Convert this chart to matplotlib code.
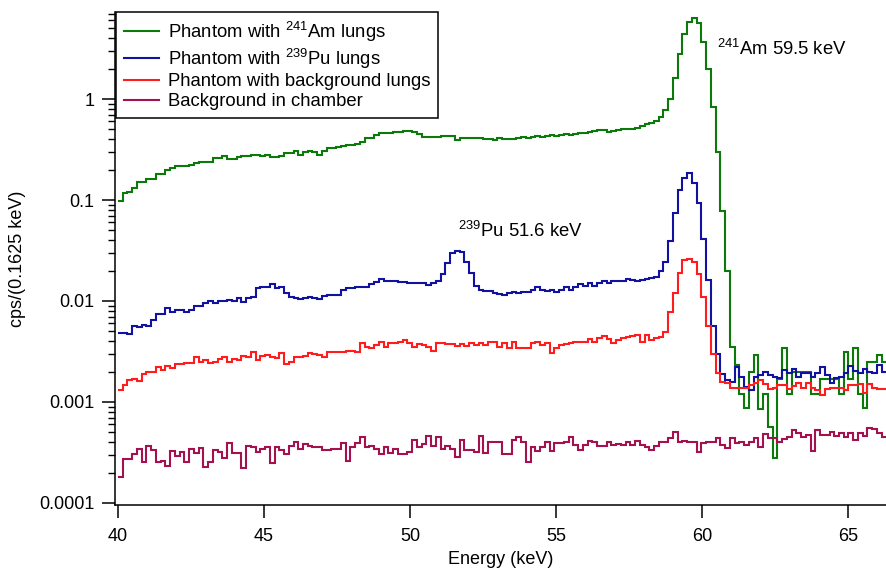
import matplotlib
matplotlib.use('Agg')
import matplotlib.pyplot as plt
import numpy as np
from matplotlib.ticker import FixedLocator, LogLocator, NullFormatter, FuncFormatter

plt.rcParams['font.family'] = ['Liberation Sans', 'DejaVu Sans']
plt.rcParams['mathtext.default'] = 'regular'
plt.rcParams['font.size'] = 13

# spektra: biny co 0.1625 keV od 40 keV
e_start = 40.0
bin_width = 0.1625

am_lungs = [
    0.098, 0.116, 0.121, 0.131, 0.152, 0.152, 0.160, 0.161, 0.180, 0.180,
    0.198, 0.206, 0.217, 0.217, 0.217, 0.222, 0.231, 0.240, 0.240, 0.238,
    0.263, 0.263, 0.273, 0.255, 0.255, 0.265, 0.270, 0.273, 0.277, 0.277,
    0.270, 0.278, 0.268, 0.268, 0.273, 0.290, 0.290, 0.306, 0.280, 0.300,
    0.306, 0.300, 0.280, 0.306, 0.325, 0.325, 0.335, 0.343, 0.350, 0.351,
    0.360, 0.379, 0.410, 0.410, 0.440, 0.457, 0.457, 0.457, 0.466, 0.475,
    0.486, 0.486, 0.475, 0.447, 0.423, 0.423, 0.423, 0.423, 0.430, 0.430,
    0.430, 0.393, 0.414, 0.414, 0.414, 0.414, 0.409, 0.400, 0.400, 0.393,
    0.414, 0.400, 0.400, 0.400, 0.410, 0.420, 0.410, 0.420, 0.430, 0.420,
    0.430, 0.440, 0.430, 0.440, 0.450, 0.440, 0.450, 0.460, 0.460, 0.470,
    0.480, 0.490, 0.490, 0.470, 0.480, 0.490, 0.500, 0.500, 0.510, 0.520,
    0.540, 0.560, 0.580, 0.610, 0.660, 0.780, 1.00, 1.60, 2.80, 4.40,
    5.80, 6.30, 5.65, 3.70, 2.00, 0.83, 0.30, 0.078, 0.020, 0.0035,
    0.0023, 0.0012, 0.00087, 0.0020, 0.0029, 0.00085, 0.0012, 0.00056, 0.00028, 0.0017,
    0.0034, 0.0012, 0.0020, 0.0020, 0.0020, 0.0020, 0.0012, 0.0012, 0.0017, 0.0017,
    0.0017, 0.0017, 0.0012, 0.0031, 0.0017, 0.0034, 0.0012, 0.00087, 0.0025, 0.0025,
    0.0029, 0.0025,
]

pu_lungs = [
    0.0048, 0.0048, 0.0047, 0.0057, 0.0055, 0.0058, 0.0056, 0.0065, 0.0074, 0.0074,
    0.0085, 0.0078, 0.0081, 0.0082, 0.0077, 0.0081, 0.0089, 0.0089, 0.0096, 0.0100,
    0.0096, 0.0100, 0.0100, 0.0102, 0.0100, 0.0106, 0.0097, 0.0106, 0.0110, 0.0133,
    0.0139, 0.0139, 0.0147, 0.0133, 0.0137, 0.0119, 0.0110, 0.0106, 0.0104, 0.0106,
    0.0110, 0.0106, 0.0104, 0.0112, 0.0115, 0.0115, 0.0115, 0.0129, 0.0133, 0.0133,
    0.0139, 0.0139, 0.0139, 0.0147, 0.0155, 0.0164, 0.0158, 0.0158, 0.0158, 0.0155,
    0.0155, 0.0150, 0.0150, 0.0152, 0.0150, 0.0144, 0.0150, 0.0156, 0.0184, 0.0236,
    0.0297, 0.0315, 0.0308, 0.0245, 0.0188, 0.0141, 0.0128, 0.0127, 0.0127, 0.0119,
    0.0117, 0.0115, 0.0119, 0.0124, 0.0121, 0.0124, 0.0124, 0.0128, 0.0137, 0.0128,
    0.0127, 0.0128, 0.0124, 0.0128, 0.0137, 0.0128, 0.0137, 0.0147, 0.0141, 0.0150,
    0.0141, 0.0150, 0.0156, 0.0150, 0.0156, 0.0156, 0.0156, 0.0165, 0.0161, 0.0156,
    0.0161, 0.0165, 0.0168, 0.0174, 0.0200, 0.0245, 0.0396, 0.075, 0.125, 0.164,
    0.184, 0.149, 0.094, 0.041, 0.0162, 0.0056, 0.0030, 0.0019, 0.00165, 0.00159,
    0.00224, 0.00178, 0.00142, 0.00132, 0.00178, 0.00185, 0.0020, 0.00185, 0.00178, 0.00172,
    0.00207, 0.00195, 0.0021, 0.00178, 0.00192, 0.00195, 0.00178, 0.00192, 0.00224, 0.00185,
    0.00153, 0.00172, 0.00178, 0.00192, 0.00227, 0.00204, 0.00192, 0.0021, 0.0020, 0.00192,
    0.00232, 0.0020,
]

bkg_lungs = [
    1.31e-3, 1.47e-3, 1.65e-3, 1.68e-3, 1.62e-3, 1.89e-3, 2.00e-3, 2.00e-3, 2.24e-3, 2.07e-3,
    2.27e-3, 2.15e-3, 2.38e-3, 2.38e-3, 2.42e-3, 2.45e-3, 2.77e-3, 2.51e-3, 2.61e-3, 2.45e-3,
    2.51e-3, 2.64e-3, 2.77e-3, 2.51e-3, 2.64e-3, 2.61e-3, 2.85e-3, 2.77e-3, 3.15e-3, 2.61e-3,
    2.85e-3, 2.92e-3, 2.77e-3, 2.70e-3, 3.03e-3, 2.36e-3, 2.51e-3, 2.77e-3, 2.81e-3, 2.85e-3,
    3.03e-3, 2.99e-3, 2.92e-3, 2.77e-3, 3.15e-3, 3.15e-3, 3.10e-3, 3.15e-3, 3.20e-3, 3.20e-3,
    3.15e-3, 3.81e-3, 3.53e-3, 3.40e-3, 3.66e-3, 3.96e-3, 3.48e-3, 3.87e-3, 3.81e-3, 3.96e-3,
    4.11e-3, 3.81e-3, 3.53e-3, 3.72e-3, 3.66e-3, 3.53e-3, 3.22e-3, 3.81e-3, 3.81e-3, 3.74e-3,
    3.74e-3, 3.62e-3, 3.72e-3, 3.60e-3, 3.87e-3, 3.66e-3, 3.87e-3, 3.66e-3, 3.96e-3, 3.96e-3,
    3.53e-3, 3.81e-3, 3.40e-3, 3.96e-3, 3.40e-3, 3.40e-3, 3.40e-3, 3.81e-3, 3.90e-3, 3.66e-3,
    3.81e-3, 3.08e-3, 3.40e-3, 3.66e-3, 3.74e-3, 3.81e-3, 3.90e-3, 3.90e-3, 3.96e-3, 4.21e-3,
    3.90e-3, 4.27e-3, 4.50e-3, 4.18e-3, 3.81e-3, 4.11e-3, 4.27e-3, 4.43e-3, 4.50e-3, 4.60e-3,
    3.96e-3, 4.60e-3, 4.11e-3, 4.27e-3, 4.43e-3, 4.97e-3, 7.8e-3, 0.0119, 0.0188, 0.0255,
    0.0260, 0.0245, 0.0185, 0.0110, 0.00565, 0.0030, 0.00195, 0.00159, 0.00153, 0.00137,
    1.37e-3, 1.39e-3, 1.37e-3, 1.48e-3, 1.53e-3, 1.65e-3, 1.51e-3, 1.34e-3, 1.39e-3, 1.48e-3,
    1.48e-3, 1.34e-3, 1.45e-3, 1.53e-3, 1.37e-3, 1.53e-3, 1.37e-3, 1.32e-3, 1.17e-3, 1.34e-3,
    1.39e-3, 1.39e-3, 1.37e-3, 1.32e-3, 1.48e-3, 1.48e-3, 1.51e-3, 1.22e-3, 1.51e-3, 1.37e-3,
    1.34e-3, 1.34e-3,
]

chamber = [
    1.82e-4, 2.70e-4, 2.70e-4, 3.05e-4, 3.40e-4, 2.57e-4, 3.64e-4, 3.35e-4, 2.57e-4, 2.62e-4,
    2.34e-4, 3.30e-4, 2.92e-4, 3.22e-4, 2.57e-4, 3.43e-4, 3.15e-4, 3.49e-4, 2.29e-4, 2.57e-4,
    3.35e-4, 3.22e-4, 2.77e-4, 3.96e-4, 3.10e-4, 3.10e-4, 2.20e-4, 3.70e-4, 3.61e-4, 3.22e-4,
    3.40e-4, 3.61e-4, 2.51e-4, 3.61e-4, 3.35e-4, 3.05e-4, 3.68e-4, 4.05e-4, 3.40e-4, 3.84e-4,
    3.64e-4, 3.61e-4, 3.61e-4, 3.35e-4, 3.35e-4, 3.40e-4, 3.40e-4, 3.96e-4, 2.61e-4, 3.61e-4,
    3.96e-4, 4.47e-4, 3.61e-4, 3.68e-4, 3.40e-4, 3.05e-4, 3.61e-4, 3.10e-4, 3.40e-4, 3.05e-4,
    3.05e-4, 3.22e-4, 4.21e-4, 3.61e-4, 3.84e-4, 4.61e-4, 3.70e-4, 4.47e-4, 3.40e-4, 3.64e-4,
    3.40e-4, 2.87e-4, 4.21e-4, 3.35e-4, 3.35e-4, 3.22e-4, 4.61e-4, 3.15e-4, 4.05e-4, 4.05e-4,
    4.05e-4, 3.05e-4, 3.05e-4, 4.21e-4, 4.54e-4, 4.05e-4, 2.57e-4, 3.61e-4, 3.30e-4, 3.61e-4,
    4.05e-4, 3.30e-4, 3.90e-4, 3.90e-4, 4.05e-4, 4.47e-4, 3.75e-4, 3.35e-4, 3.75e-4, 4.11e-4,
    4.05e-4, 3.67e-4, 3.67e-4, 4.05e-4, 3.75e-4, 3.84e-4, 3.75e-4, 4.05e-4, 3.75e-4, 4.14e-4,
    3.75e-4, 3.61e-4, 3.35e-4, 3.70e-4, 4.05e-4, 4.05e-4, 4.37e-4, 5.08e-4, 4.05e-4, 4.11e-4,
    4.05e-4, 4.05e-4, 3.22e-4, 3.90e-4, 4.05e-4, 4.05e-4, 4.37e-4, 3.75e-4, 3.48e-4, 4.37e-4,
    3.90e-4, 4.05e-4, 3.75e-4, 4.05e-4, 4.37e-4, 3.61e-4, 4.79e-4, 4.37e-4, 4.37e-4, 4.05e-4,
    4.27e-4, 4.54e-4, 5.28e-4, 4.90e-4, 4.54e-4, 4.71e-4, 3.30e-4, 5.28e-4, 4.71e-4, 4.71e-4,
    5.08e-4, 4.61e-4, 4.90e-4, 4.54e-4, 4.90e-4, 4.21e-4, 4.90e-4, 4.61e-4, 5.57e-4, 5.36e-4,
    4.90e-4, 4.54e-4,
]

labels = ['Phantom with $^{241}$Am lungs',
          'Phantom with $^{239}$Pu lungs',
          'Phantom with background lungs',
          'Background in chamber']
colors = ['#0b7a0b', '#1212a0', '#ff1c1c', '#a3124e']

fig = plt.figure(figsize=(8.86, 5.72), dpi=100)
ax = fig.add_axes([115 / 886, 67 / 572, 771 / 886, 493 / 572])

for widmo, lab, col in zip([am_lungs, pu_lungs, bkg_lungs, chamber], labels, colors):
    edges = e_start + bin_width * np.arange(len(widmo) + 1)
    ax.stairs(widmo, edges, baseline=None, color=col, lw=1.5, label=lab)

ax.set_yscale('log')
ax.set_xlim(39.897, 66.31)
ax.set_ylim(9.55e-5, 7.27)

ax.xaxis.set_major_locator(FixedLocator([40, 45, 50, 55, 60, 65]))
ax.yaxis.set_major_locator(FixedLocator([1e-4, 1e-3, 1e-2, 1e-1, 1]))
ax.yaxis.set_major_formatter(FuncFormatter(lambda v, p: '%g' % v))
ax.yaxis.set_minor_locator(LogLocator(base=10, subs=np.arange(2, 10), numticks=20))
ax.yaxis.set_minor_formatter(NullFormatter())

ax.tick_params(which='major', direction='out', length=9.4, width=1.1, labelsize=13)
ax.tick_params(axis='x', which='major', pad=7.5)
ax.tick_params(axis='y', which='major', pad=5.5)
ax.tick_params(which='minor', direction='out', length=5, width=1.0)

ax.spines['top'].set_visible(False)
ax.spines['right'].set_visible(False)
ax.spines['left'].set_linewidth(1.1)
ax.spines['bottom'].set_linewidth(1.1)

ax.set_xlabel('Energy (keV)', fontsize=13, labelpad=4)
ax.set_ylabel('cps/(0.1625 keV)', fontsize=13, labelpad=9)

# opisy pikow
ax.text(60.52, 2.73, '$^{241}$Am 59.5 keV', fontsize=13.3, ha='left', va='baseline')
ax.text(51.65, 0.043, '$^{239}$Pu 51.6 keV', fontsize=13.3, ha='left', va='baseline')

leg = ax.legend(loc='upper left', bbox_to_anchor=(116 / 886, 1 - 12 / 572),
                bbox_transform=fig.transFigure, borderaxespad=0, fontsize=13.3,
                labelspacing=0.15, handlelength=1.9, handletextpad=0.5,
                borderpad=0.42, fancybox=False, framealpha=1)
leg.get_frame().set_edgecolor('black')
leg.get_frame().set_linewidth(1.1)

fig.savefig('out.png', dpi=100)
